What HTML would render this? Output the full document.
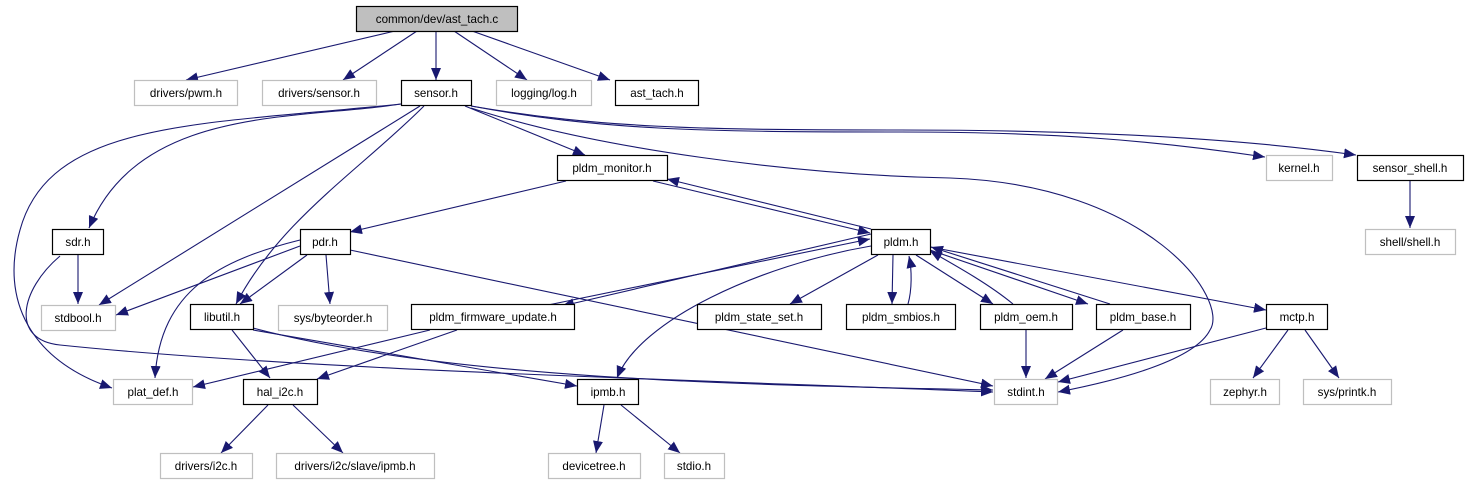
<!DOCTYPE html>
<html><head><meta charset="utf-8"><style>
html,body{margin:0;padding:0;background:#fff;width:1468px;height:485px;overflow:hidden}
svg text{font-family:"Liberation Sans",sans-serif;font-size:11.6px;fill:#000}
</style></head><body>
<svg width="1468" height="485" viewBox="0 0 1468 485" xmlns="http://www.w3.org/2000/svg">
<defs><marker id="a" markerUnits="userSpaceOnUse" markerWidth="13" markerHeight="11" refX="12" refY="5" orient="auto"><path d="M0,0 L12,5 L0,10 z" fill="#191970"/></marker></defs>
<g fill="none" stroke="#191970" stroke-width="1.1" marker-end="url(#a)">
<path d="M395,31 L186,80"/>
<path d="M417,31 L343,80"/>
<path d="M436,31 L436,80"/>
<path d="M454,31 L527,80"/>
<path d="M472,31 L610,80"/>
<path d="M401,104 C300,120 140,105 89,228"/>
<path d="M401,104 C200,125 50,120 20,230 C0,300 30,360 112,388"/>
<path d="M420,106 L99,305"/>
<path d="M424,106 C360,170 280,220 236,304"/>
<path d="M465,106 L585,155"/>
<path d="M471,108 C600,150 800,175 950,178 C1150,185 1230,300 1210,330 C1195,360 1120,380 1058,392"/>
<path d="M471,106 C600,130 700,132 900,132 C1050,132 1150,140 1265,157"/>
<path d="M471,106 C600,128 700,130 900,130 C1100,130 1250,140 1356,155"/>
<path d="M566,181 L350,232"/>
<path d="M653,181 L870,233"/>
<path d="M871,229 L667,179"/>
<path d="M78,255 L78,304"/>
<path d="M60,256 C20,290 10,340 60,345 C300,370 700,380 993,392"/>
<path d="M300,246 L116,315"/>
<path d="M300,240 C220,260 160,290 155,378"/>
<path d="M307,255 L240,304"/>
<path d="M326,255 L330,304"/>
<path d="M350,250 L993,386"/>
<path d="M232,330 L270,378"/>
<path d="M253,330 L577,386"/>
<path d="M253,328 C450,380 750,385 993,390"/>
<path d="M430,330 L193,387"/>
<path d="M457,330 L317,379"/>
<path d="M548,305 L870,239"/>
<path d="M871,234 L562,306"/>
<path d="M268,405 L221,453"/>
<path d="M293,405 L343,453"/>
<path d="M604,405 L596,453"/>
<path d="M621,405 L680,453"/>
<path d="M871,246 C760,265 640,320 617,378"/>
<path d="M878,255 L790,304"/>
<path d="M893,255 L892,304"/>
<path d="M908,304 C912,290 912,270 909,256"/>
<path d="M916,255 L993,304"/>
<path d="M1013,304 C990,285 960,268 930,251"/>
<path d="M930,250 L1088,304"/>
<path d="M1110,304 L931,247"/>
<path d="M930,247 L1266,310"/>
<path d="M1026,330 L1026,378"/>
<path d="M1123,330 L1045,379"/>
<path d="M1266,328 L1058,382"/>
<path d="M1288,330 L1253,378"/>
<path d="M1305,330 L1339,378"/>
<path d="M1410,181 L1410,228"/>
</g>
<g stroke-width="1.2">
<rect x="356.5" y="6.5" width="161" height="25" fill="#bfbfbf" stroke="#000"/>
<rect x="134.5" y="80.5" width="103" height="25" fill="#fff" stroke="#bfbfbf"/>
<rect x="262.5" y="80.5" width="114" height="25" fill="#fff" stroke="#bfbfbf"/>
<rect x="401.5" y="80.5" width="70" height="25" fill="#fff" stroke="#000"/>
<rect x="496.5" y="80.5" width="95" height="25" fill="#fff" stroke="#bfbfbf"/>
<rect x="615.5" y="80.5" width="83" height="25" fill="#fff" stroke="#000"/>
<rect x="557.5" y="155.5" width="110" height="25" fill="#fff" stroke="#000"/>
<rect x="1266.5" y="155.5" width="66" height="25" fill="#fff" stroke="#bfbfbf"/>
<rect x="1357.5" y="155.5" width="106" height="25" fill="#fff" stroke="#000"/>
<rect x="52.5" y="229.5" width="51" height="25" fill="#fff" stroke="#000"/>
<rect x="300.5" y="229.5" width="50" height="25" fill="#fff" stroke="#000"/>
<rect x="871.5" y="229.5" width="59" height="25" fill="#fff" stroke="#000"/>
<rect x="1365.5" y="229.5" width="90" height="25" fill="#fff" stroke="#bfbfbf"/>
<rect x="41.5" y="305.5" width="74" height="25" fill="#fff" stroke="#bfbfbf"/>
<rect x="190.5" y="304.5" width="63" height="25" fill="#fff" stroke="#000"/>
<rect x="278.5" y="305.5" width="109" height="25" fill="#fff" stroke="#bfbfbf"/>
<rect x="411.5" y="304.5" width="163" height="25" fill="#fff" stroke="#000"/>
<rect x="697.5" y="304.5" width="124" height="25" fill="#fff" stroke="#000"/>
<rect x="846.5" y="304.5" width="109" height="25" fill="#fff" stroke="#000"/>
<rect x="980.5" y="304.5" width="92" height="25" fill="#fff" stroke="#000"/>
<rect x="1096.5" y="304.5" width="94" height="25" fill="#fff" stroke="#000"/>
<rect x="1266.5" y="304.5" width="61" height="25" fill="#fff" stroke="#000"/>
<rect x="113.5" y="379.5" width="79" height="25" fill="#fff" stroke="#bfbfbf"/>
<rect x="243.5" y="379.5" width="74" height="25" fill="#fff" stroke="#000"/>
<rect x="577.5" y="379.5" width="61" height="25" fill="#fff" stroke="#000"/>
<rect x="994.5" y="379.5" width="63" height="25" fill="#fff" stroke="#bfbfbf"/>
<rect x="1210.5" y="379.5" width="69" height="25" fill="#fff" stroke="#bfbfbf"/>
<rect x="1303.5" y="379.5" width="88" height="25" fill="#fff" stroke="#bfbfbf"/>
<rect x="160.5" y="453.5" width="92" height="25" fill="#fff" stroke="#bfbfbf"/>
<rect x="276.5" y="453.5" width="158" height="25" fill="#fff" stroke="#bfbfbf"/>
<rect x="548.5" y="453.5" width="92" height="25" fill="#fff" stroke="#bfbfbf"/>
<rect x="664.5" y="453.5" width="60" height="25" fill="#fff" stroke="#bfbfbf"/>
</g>
<g text-anchor="middle">
<text x="437" y="23">common/dev/ast_tach.c</text>
<text x="186" y="97">drivers/pwm.h</text>
<text x="319" y="97">drivers/sensor.h</text>
<text x="436" y="97">sensor.h</text>
<text x="544" y="97">logging/log.h</text>
<text x="657" y="97">ast_tach.h</text>
<text x="612" y="172">pldm_monitor.h</text>
<text x="1299" y="172">kernel.h</text>
<text x="1410" y="172">sensor_shell.h</text>
<text x="78" y="246">sdr.h</text>
<text x="325" y="246">pdr.h</text>
<text x="901" y="246">pldm.h</text>
<text x="1410" y="246">shell/shell.h</text>
<text x="78" y="322">stdbool.h</text>
<text x="222" y="321">libutil.h</text>
<text x="333" y="322">sys/byteorder.h</text>
<text x="493" y="321">pldm_firmware_update.h</text>
<text x="759" y="321">pldm_state_set.h</text>
<text x="901" y="321">pldm_smbios.h</text>
<text x="1026" y="321">pldm_oem.h</text>
<text x="1143" y="321">pldm_base.h</text>
<text x="1297" y="321">mctp.h</text>
<text x="153" y="396">plat_def.h</text>
<text x="280" y="396">hal_i2c.h</text>
<text x="608" y="396">ipmb.h</text>
<text x="1026" y="396">stdint.h</text>
<text x="1245" y="396">zephyr.h</text>
<text x="1347" y="396">sys/printk.h</text>
<text x="206" y="470">drivers/i2c.h</text>
<text x="355" y="470">drivers/i2c/slave/ipmb.h</text>
<text x="594" y="470">devicetree.h</text>
<text x="694" y="470">stdio.h</text>
</g>
</svg>
</body></html>
